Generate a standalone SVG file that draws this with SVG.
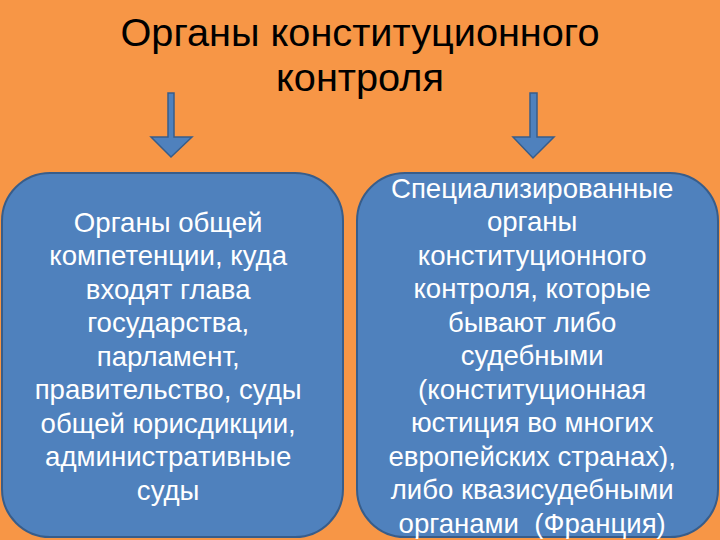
<svg xmlns="http://www.w3.org/2000/svg" width="720" height="540" viewBox="0 0 720 540">
<style>
.title{font-family:"Liberation Sans",Arial,sans-serif;font-size:39.7px;fill:#000;text-anchor:middle}
.box{fill:#4F81BD;stroke:#385D8A;stroke-width:2}
.txt{font-family:"Liberation Sans",Arial,sans-serif;font-size:27.6px;fill:#fff;text-anchor:middle;white-space:pre}
.arrow{fill:#4F81BD;stroke:#385D8A;stroke-width:1.5}
</style>
<rect width="720" height="540" fill="#F79646"/>
<g id="title">
<text class="title" x="360" y="46">Органы конституционного</text>
<text class="title" x="360" y="91">контроля</text>
</g>
<g id="connectors">
<path class="arrow" d="M168,93 H174 V137 H192 L171,157 L151,137 H168 Z"/>
<path class="arrow" d="M530,93 H537 V137 H554 L533,158 L513,137 H530 Z"/>
</g>
<g id="node-left">
<rect class="box" x="2" y="173" width="341" height="364" rx="48" ry="48"/>
<text class="txt" x="172">
<tspan x="172" y="232">Органы общей</tspan>
<tspan x="172" y="265">компетенции, куда</tspan>
<tspan x="172" y="299">входят глава</tspan>
<tspan x="172" y="332">государства,</tspan>
<tspan x="172" y="366">парламент,</tspan>
<tspan x="172" y="399">правительство, суды</tspan>
<tspan x="172" y="433">общей юрисдикции,</tspan>
<tspan x="172" y="466">административные</tspan>
<tspan x="172" y="500">суды</tspan>
</text>
</g>
<g id="node-right">
<rect class="box" x="357" y="173" width="361" height="364" rx="48" ry="48"/>
<text class="txt" x="536">
<tspan x="536" y="198">Специализированные</tspan>
<tspan x="536" y="231">органы</tspan>
<tspan x="536" y="265">конституционного</tspan>
<tspan x="536" y="298">контроля, которые</tspan>
<tspan x="536" y="332">бывают либо</tspan>
<tspan x="536" y="365">судебными</tspan>
<tspan x="536" y="399">(конституционная</tspan>
<tspan x="536" y="432">юстиция во многих</tspan>
<tspan x="536" y="466">европейских странах),</tspan>
<tspan x="536" y="499">либо квазисудебными</tspan>
<tspan x="536" y="533">органами  (Франция)</tspan>
</text>
</g>
</svg>
